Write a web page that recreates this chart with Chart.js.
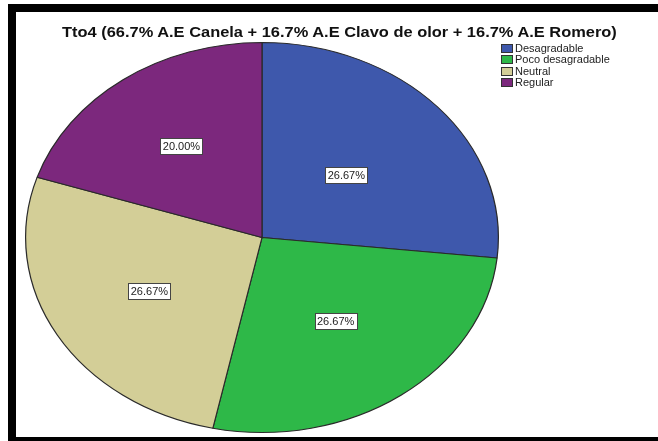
<!DOCTYPE html>
<html>
<head>
<meta charset="utf-8">
<script src="https://cdn.jsdelivr.net/npm/chart.js@4.4.1/dist/chart.umd.min.js"></script>
<style>
  html, body { margin: 0; padding: 0; background: #fff; }
  #wrap { position: relative; width: 658px; height: 441px; overflow: hidden; font-family: "Liberation Sans", Arial, sans-serif; }
  #pie { position: absolute; left: 0; top: 0; }
  .frame { position: absolute; background: #000; }
  #title { position: absolute; left: 62px; top: 23px; line-height: 17px; font-weight: bold; font-size: 15px; color: #111; white-space: nowrap; transform-origin: 0 0; }
  #legend { position: absolute; left: 501px; top: 42.5px; font-size: 11px; color: #222; }
  #legend div { height: 11.5px; line-height: 11.5px; white-space: nowrap; }
  #legend span { display: inline-block; width: 12px; height: 9px; border: 1px solid #333; margin-right: 2px; vertical-align: -1px; box-sizing: border-box; }
</style>
</head>
<body>
<div id="wrap">
  <canvas id="pie" width="658" height="441"></canvas>
  <div class="frame" style="left:8px;top:4px;width:650px;height:8px"></div>
  <div class="frame" style="left:8px;top:4px;width:8px;height:437px"></div>
  <div class="frame" style="left:8px;top:437px;width:650px;height:4px"></div>
  <div id="title">Tto4 (66.7% A.E Canela + 16.7% A.E Clavo de olor + 16.7% A.E Romero)</div>
  <div id="legend"></div>
</div>
<script>
const categories  = ["Desagradable", "Poco desagradable", "Neutral", "Regular"];
const percentages = [26.67, 26.67, 26.67, 20.00];
const sliceColors = ["#3e58ac", "#2eb848", "#d3ce97", "#7c287d"];
// how far out (fraction of radius) each value box sits
const labelRadius = [0.48, 0.53, 0.55, 0.58];

// pie is squashed vertically into an ellipse
const stretchX = 237 / 195.5;

function byId(id) { return document.getElementById(id); }

// title runs a bit wide, stretch it to span 62..617
const title = byId("title");
title.style.transform = `scaleX(${555 / title.offsetWidth})`;

byId("legend").innerHTML = categories.map((c, i) =>
  `<div><span style="background:${sliceColors[i]}"></span>${c}</div>`).join("");

const ellipsePie = {
  id: "ellipsePie",
  beforeDatasetsDraw(chart) {
    const { ctx, chartArea: a } = chart;
    const cx = (a.left + a.right) / 2;
    ctx.save();
    ctx.translate(cx, 0);
    ctx.scale(stretchX, 1);
    ctx.translate(-cx, 0);
  },
  afterDatasetsDraw(chart) {
    const ctx = chart.ctx;
    ctx.restore();
    // value boxes inside each slice
    const arcs = chart.getDatasetMeta(0).data;
    ctx.save();
    ctx.font = "11px 'Liberation Sans', Arial, sans-serif";
    ctx.textAlign = "center";
    ctx.textBaseline = "middle";
    arcs.forEach((arc, i) => {
      const mid = (arc.startAngle + arc.endAngle) / 2;
      const r = arc.outerRadius * labelRadius[i];
      const x = arc.x + Math.cos(mid) * r * stretchX;
      const y = arc.y + Math.sin(mid) * r;
      const text = percentages[i].toFixed(2) + "%";
      const w = Math.round(ctx.measureText(text).width + 5);
      const h = 16;
      const bx = Math.round(x - w / 2) + 0.5;
      const by = Math.round(y - h / 2) + 0.5;
      ctx.fillStyle = "#fff";
      ctx.fillRect(bx, by, w, h);
      ctx.strokeStyle = "#444";
      ctx.lineWidth = 1;
      ctx.strokeRect(bx, by, w, h);
      ctx.fillStyle = "#222";
      ctx.fillText(text, x, y + 1);
    });
    ctx.restore();
  }
};

new Chart(byId("pie").getContext("2d"), {
  type: "pie",
  data: {
    labels: categories,
    datasets: [{
      data: percentages,
      backgroundColor: sliceColors,
      borderColor: "#2a2a2a",
      borderWidth: 1,
      hoverOffset: 0
    }]
  },
  options: {
    responsive: false,
    animation: false,
    events: [],
    layout: { padding: { left: 66.5, right: 200.5, top: 42, bottom: 8 } },
    plugins: { legend: { display: false }, tooltip: { enabled: false }, title: { display: false } }
  },
  plugins: [ellipsePie]
});
</script>
</body>
</html>
